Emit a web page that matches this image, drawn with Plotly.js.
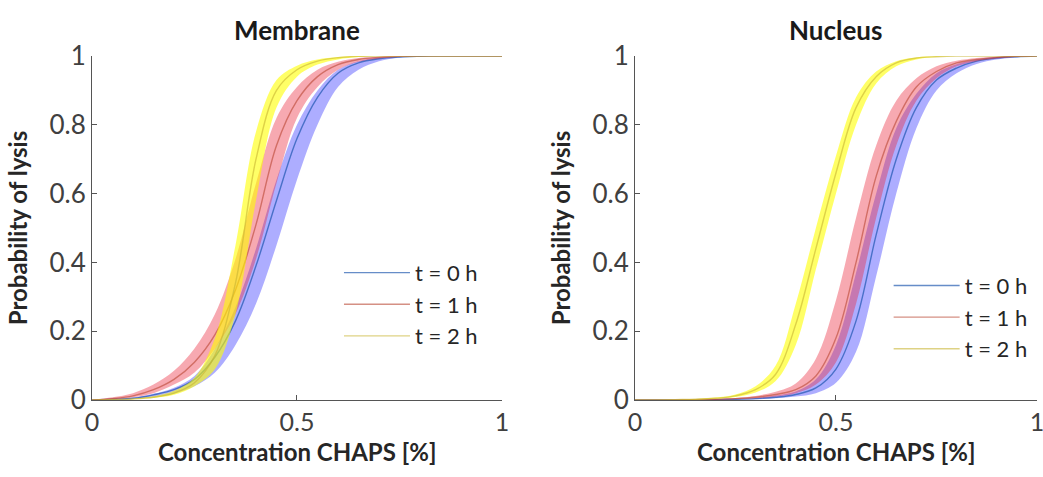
<!DOCTYPE html>
<html>
<head>
<meta charset="utf-8">
<script src="https://cdn.plot.ly/plotly-3.0.1.min.js"></script>
<style>html,body{margin:0;padding:0;background:#fff;}#chart{width:1043px;height:477px;}</style>
</head>
<body>
<div id="chart"></div>
<script>
// Shared concentration grid (CHAPS %)
const conc = [0,0.05,0.1,0.15,0.2,0.25,0.3,0.35,0.4,0.45,0.5,0.55,0.6,0.65,0.7,0.75,0.8,0.85,0.9,0.95,1];

const seriesNames = ["t = 0 h","t = 1 h","t = 2 h"];
const panelTitles = ["Membrane","Nucleus"];
const xTickVals = [0,0.5,1];
const xTickText = ["0","0.5","1"];
const yTickVals = [0,0.2,0.4,0.6,0.8,1];
const yTickText = ["0","0.2","0.4","0.6","0.8","1"];
const xTitle = "Concentration CHAPS [%]";
const yTitle = "Probability of lysis";

// Membrane
const memT0      = [0,0.002,0.005,0.015,0.03,0.06,0.125,0.23,0.39,0.58,0.76,0.88,0.95,0.98,0.992,0.997,0.999,1,1,1,1];
const memT0Lo    = [0,0.001,0.003,0.008,0.018,0.04,0.08,0.16,0.28,0.45,0.64,0.8,0.91,0.96,0.985,0.995,0.998,1,1,1,1];
const memT0Hi    = [0,0.003,0.007,0.018,0.036,0.07,0.15,0.27,0.44,0.64,0.8,0.9,0.96,0.985,0.995,0.998,1,1,1,1,1];
const memT1      = [0,0.004,0.012,0.03,0.06,0.11,0.19,0.32,0.51,0.74,0.87,0.94,0.975,0.99,0.996,0.999,1,1,1,1,1];
const memT1Lo    = [0,0.002,0.008,0.02,0.045,0.08,0.15,0.25,0.41,0.63,0.82,0.91,0.96,0.983,0.993,0.998,1,1,1,1,1];
const memT1Hi    = [0,0.008,0.02,0.045,0.085,0.15,0.25,0.41,0.63,0.82,0.91,0.96,0.983,0.994,0.998,1,1,1,1,1,1];
const memT2      = [0,0.001,0.003,0.008,0.02,0.05,0.13,0.34,0.7,0.9,0.96,0.985,0.995,0.999,1,1,1,1,1,1,1];
const memT2Lo    = [0,0.001,0.002,0.006,0.015,0.04,0.09,0.25,0.58,0.85,0.94,0.975,0.99,0.997,1,1,1,1,1,1,1];
const memT2Hi    = [0,0.002,0.004,0.011,0.027,0.065,0.18,0.45,0.78,0.93,0.972,0.99,0.997,1,1,1,1,1,1,1,1];

// Nucleus
const nucT0      = [0,0,0,0,0.001,0.002,0.004,0.008,0.016,0.035,0.09,0.23,0.48,0.7,0.85,0.93,0.965,0.985,0.994,0.998,1];
const nucT0Lo    = [0,0,0,0,0,0.001,0.002,0.005,0.01,0.02,0.05,0.14,0.36,0.6,0.79,0.9,0.95,0.977,0.99,0.996,0.999];
const nucT0Hi    = [0,0,0,0.001,0.002,0.003,0.006,0.013,0.025,0.06,0.16,0.37,0.6,0.79,0.89,0.95,0.976,0.99,0.997,0.999,1];
const nucT1      = [0,0,0,0.001,0.002,0.004,0.008,0.016,0.03,0.07,0.18,0.4,0.65,0.81,0.91,0.955,0.98,0.99,0.996,0.999,1];
const nucT1Lo    = [0,0,0,0,0.001,0.003,0.005,0.01,0.02,0.045,0.11,0.28,0.53,0.74,0.87,0.935,0.97,0.985,0.993,0.998,1];
const nucT1Hi    = [0,0,0.001,0.002,0.003,0.006,0.012,0.024,0.048,0.12,0.29,0.53,0.74,0.87,0.935,0.97,0.986,0.994,0.998,1,1];
const nucT2      = [0,0,0.001,0.002,0.005,0.012,0.03,0.075,0.22,0.44,0.66,0.85,0.94,0.98,0.994,0.998,1,1,1,1,1];
const nucT2Lo    = [0,0,0,0.001,0.004,0.009,0.022,0.055,0.16,0.38,0.6,0.8,0.92,0.97,0.99,0.997,1,1,1,1,1];
const nucT2Hi    = [0,0,0.001,0.003,0.007,0.016,0.04,0.1,0.28,0.5,0.71,0.88,0.955,0.985,0.996,0.999,1,1,1,1,1];

const panels = [
  {mid:[memT0,memT1,memT2], lo:[memT0Lo,memT1Lo,memT2Lo], hi:[memT0Hi,memT1Hi,memT2Hi]},
  {mid:[nucT0,nucT1,nucT2], lo:[nucT0Lo,nucT1Lo,nucT2Lo], hi:[nucT0Hi,nucT1Hi,nucT2Hi]}
];

const lineColors = ["rgba(20,80,170,0.65)","rgba(185,70,50,0.6)","rgba(200,180,50,0.6)"];
const bandColors = ["rgba(0,0,255,0.32)","rgba(235,40,60,0.40)","rgba(255,255,0,0.60)"];

const data = [];
panels.forEach((p, pi) => {
  const xa = pi === 0 ? "x" : "x2";
  const ya = pi === 0 ? "y" : "y2";
  const lg = pi === 0 ? "legend" : "legend2";
  for (let s = 0; s < 3; s++) {
    data.push({x: conc, y: p.lo[s], xaxis: xa, yaxis: ya, mode: "lines", line: {width: 0, shape: "spline", smoothing: 1}, showlegend: false, hoverinfo: "skip"});
    data.push({x: conc, y: p.hi[s], xaxis: xa, yaxis: ya, mode: "lines", line: {width: 0, shape: "spline", smoothing: 1}, fill: "tonexty", fillcolor: bandColors[s], showlegend: false, hoverinfo: "skip"});
    data.push({x: conc, y: p.mid[s], xaxis: xa, yaxis: ya, mode: "lines", name: seriesNames[s], legend: lg, line: {width: 1.4, color: lineColors[s], shape: "spline", smoothing: 1}});
  }
});

const FONT = "Lato, 'Open Sans', sans-serif";
function xaxisDef(dom, anchor) {
  return {domain: dom, anchor: anchor, range: [0,1], tickvals: xTickVals, ticktext: xTickText, ticks: "inside", ticklen: 5, tickcolor: "#555",
    showline: true, linecolor: "#555", linewidth: 1, showgrid: false, zeroline: false, ticklabeloverflow: "allow", automargin: false,
    tickfont: {family: FONT, size: 25, color: "#404040"}, fixedrange: true};
}
function yaxisDef(anchor) {
  return {domain: [0.1614, 0.8826], anchor: anchor, range: [0,1], tickvals: yTickVals, ticktext: yTickText, ticks: "inside", ticklen: 5, tickcolor: "#555",
    showline: true, linecolor: "#555", linewidth: 1, showgrid: false, zeroline: false, ticklabeloverflow: "allow", automargin: false,
    tickfont: {family: FONT, size: 26, color: "#404040"}, fixedrange: true,
    title: {text: yTitle, font: {family: FONT, size: 24, color: "#262626", weight: "bold"}, standoff: 15}};
}

const legendFont = {family: FONT, size: 22, color: "#262626"};
const titleFont = {family: FONT, size: 26, color: "#1a1a1a", weight: "bold"};
const xTitleFont = {family: FONT, size: 24, color: "#262626", weight: "bold"};
const layout = {
  width: 1043, height: 477,
  margin: {l: 0, r: 0, t: 0, b: 0},
  paper_bgcolor: "#fff", plot_bgcolor: "#fff",
  font: {family: FONT, color: "#262626"},
  xaxis: xaxisDef([0.0882, 0.4813], "y"), yaxis: yaxisDef("x"),
  xaxis2: xaxisDef([0.6088, 0.9942], "y2"), yaxis2: yaxisDef("x2"),
  legend: {x: 0.325, y: 0.472, xanchor: "left", yanchor: "top", bgcolor: "rgba(0,0,0,0)", font: legendFont, tracegroupgap: 0, traceorder: "normal", itemwidth: 66},
  legend2: {x: 0.852, y: 0.445, xanchor: "left", yanchor: "top", bgcolor: "rgba(0,0,0,0)", font: legendFont, tracegroupgap: 0, traceorder: "normal", itemwidth: 66},
  annotations: [
    {text: panelTitles[0], xref: "paper", yref: "paper", x: 0.2848, y: 0.937, xanchor: "center", yanchor: "middle", showarrow: false, font: titleFont},
    {text: panelTitles[1], xref: "paper", yref: "paper", x: 0.8015, y: 0.937, xanchor: "center", yanchor: "middle", showarrow: false, font: titleFont},
    {text: xTitle, xref: "x domain", yref: "paper", x: 0.5, y: 0.053, xanchor: "center", yanchor: "middle", showarrow: false, font: xTitleFont},
    {text: xTitle, xref: "x2 domain", yref: "paper", x: 0.5, y: 0.053, xanchor: "center", yanchor: "middle", showarrow: false, font: xTitleFont}
  ],
  showlegend: true
};

Plotly.newPlot("chart", data, layout, {displayModeBar: false, staticPlot: true});
</script>
</body>
</html>
